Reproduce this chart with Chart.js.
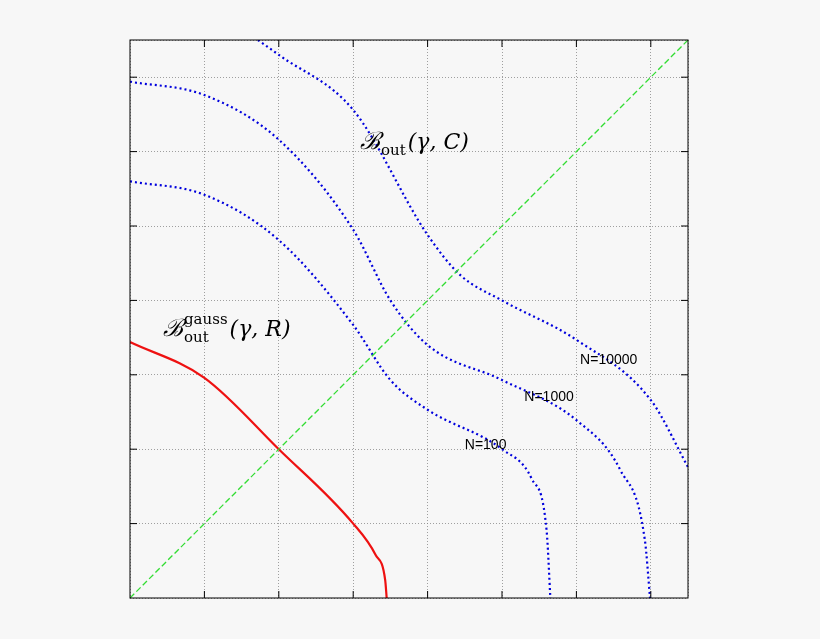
<!DOCTYPE html>
<html><head><meta charset="utf-8">
<script src="https://cdn.jsdelivr.net/npm/chart.js@4"></script>
<style>html,body{margin:0;background:#f7f7f7}#w{width:820px;height:639px}</style>
</head><body><div id="w"><canvas id="c"></canvas></div>
<script>
const gaussX=[0,1,2,3,3.3,3.43,3.45];
const gaussY=[3.44,2.96,2.0,1.0,0.58,0.24,0];
const n100X=[0,1,2,3,3.5,4,5,5.4,5.6,5.65];
const n100Y=[5.6,5.42,4.81,3.67,2.93,2.53,2.0,1.6,0.9,0];
const n1000X=[0,1,2,3,3.5,4,5,6,6.59,6.92,6.99];
const n1000Y=[6.94,6.76,6.16,4.95,4.0,3.4,2.93,2.39,1.72,0.78,0];
const n10000X=[1.72,2,3,4,4.44,5,6,7,7.5];
const n10000Y=[7.5,7.3,6.56,4.88,4.34,4.0,3.47,2.66,1.76];
const diagX=[0,7.5], diagY=[0,7.5];
const labels=[{t:'N=100',x:4.5,y:2.05},{t:'N=1000',x:5.3,y:2.7},{t:'N=10000',x:6.05,y:3.2}];
const pts=(xs,ys)=>xs.map((x,i)=>({x,y:ys[i]}));
const blue={borderColor:'#0000dd',borderWidth:2.2,borderDash:[2,3],pointRadius:0,cubicInterpolationMode:'monotone',showLine:true};
const deco={id:'deco',afterDraw(ch){const c=ch.ctx,xs=ch.scales.x,ys=ch.scales.y,a=ch.chartArea;
 c.save();c.strokeStyle='#000';c.lineWidth=1;
 for(let v=1;v<=7;v++){const px=xs.getPixelForValue(v),py=ys.getPixelForValue(v);
  c.beginPath();c.moveTo(px,a.bottom);c.lineTo(px,a.bottom-7);c.moveTo(px,a.top);c.lineTo(px,a.top+7);
  c.moveTo(a.left,py);c.lineTo(a.left+7,py);c.moveTo(a.right,py);c.lineTo(a.right-7,py);c.stroke();}
 c.strokeRect(a.left,a.top,a.right-a.left,a.bottom-a.top);
 c.fillStyle='#000';c.font='14px "Liberation Sans"';c.textBaseline='middle';
 labels.forEach(l=>c.fillText(l.t,xs.getPixelForValue(l.x),ys.getPixelForValue(l.y)));
 function math(x,y,sup,sub,rest){c.font='italic 24px "DejaVu Serif"';c.fillText('ℬ',x,y);
  let w=c.measureText('ℬ').width;c.font='15px "DejaVu Serif"';
  if(sup)c.fillText(sup,x+w+1,y-10);c.fillText(sub,x+w+1,y+8);
  const ww=Math.max(c.measureText(sub).width,sup?c.measureText(sup).width:0);
  c.font='italic 22px "DejaVu Serif"';c.fillText(rest,x+w+ww+3,y);}
 math(360,143,null,'out','(γ, C)');
 math(163,330,'gauss','out','(γ, R)');
 c.restore();}};
const gridOpt={color:'#888',lineWidth:0.8,drawTicks:false};
new Chart(document.getElementById('c'),{type:'scatter',
 data:{datasets:[
  {data:pts(diagX,diagY),borderColor:'#33dd33',borderWidth:1.3,borderDash:[6,3],pointRadius:0,showLine:true},
  {data:pts(gaussX,gaussY),borderColor:'#ee1111',borderWidth:2.2,pointRadius:0,cubicInterpolationMode:'monotone',showLine:true},
  {data:pts(n100X,n100Y),...blue},{data:pts(n1000X,n1000Y),...blue},{data:pts(n10000X,n10000Y),...blue}]},
 options:{responsive:true,maintainAspectRatio:false,animation:false,
  layout:{padding:{left:130,right:132,top:40,bottom:41}},
  plugins:{legend:{display:false},tooltip:{enabled:false}},
  scales:{x:{type:'linear',min:0,max:7.5,ticks:{display:false,stepSize:1},border:{display:false,dash:[1,2]},grid:gridOpt},
   y:{type:'linear',min:0,max:7.5,ticks:{display:false,stepSize:1},border:{display:false,dash:[1,2]},grid:gridOpt}}},
 plugins:[deco]});
</script></body></html>
